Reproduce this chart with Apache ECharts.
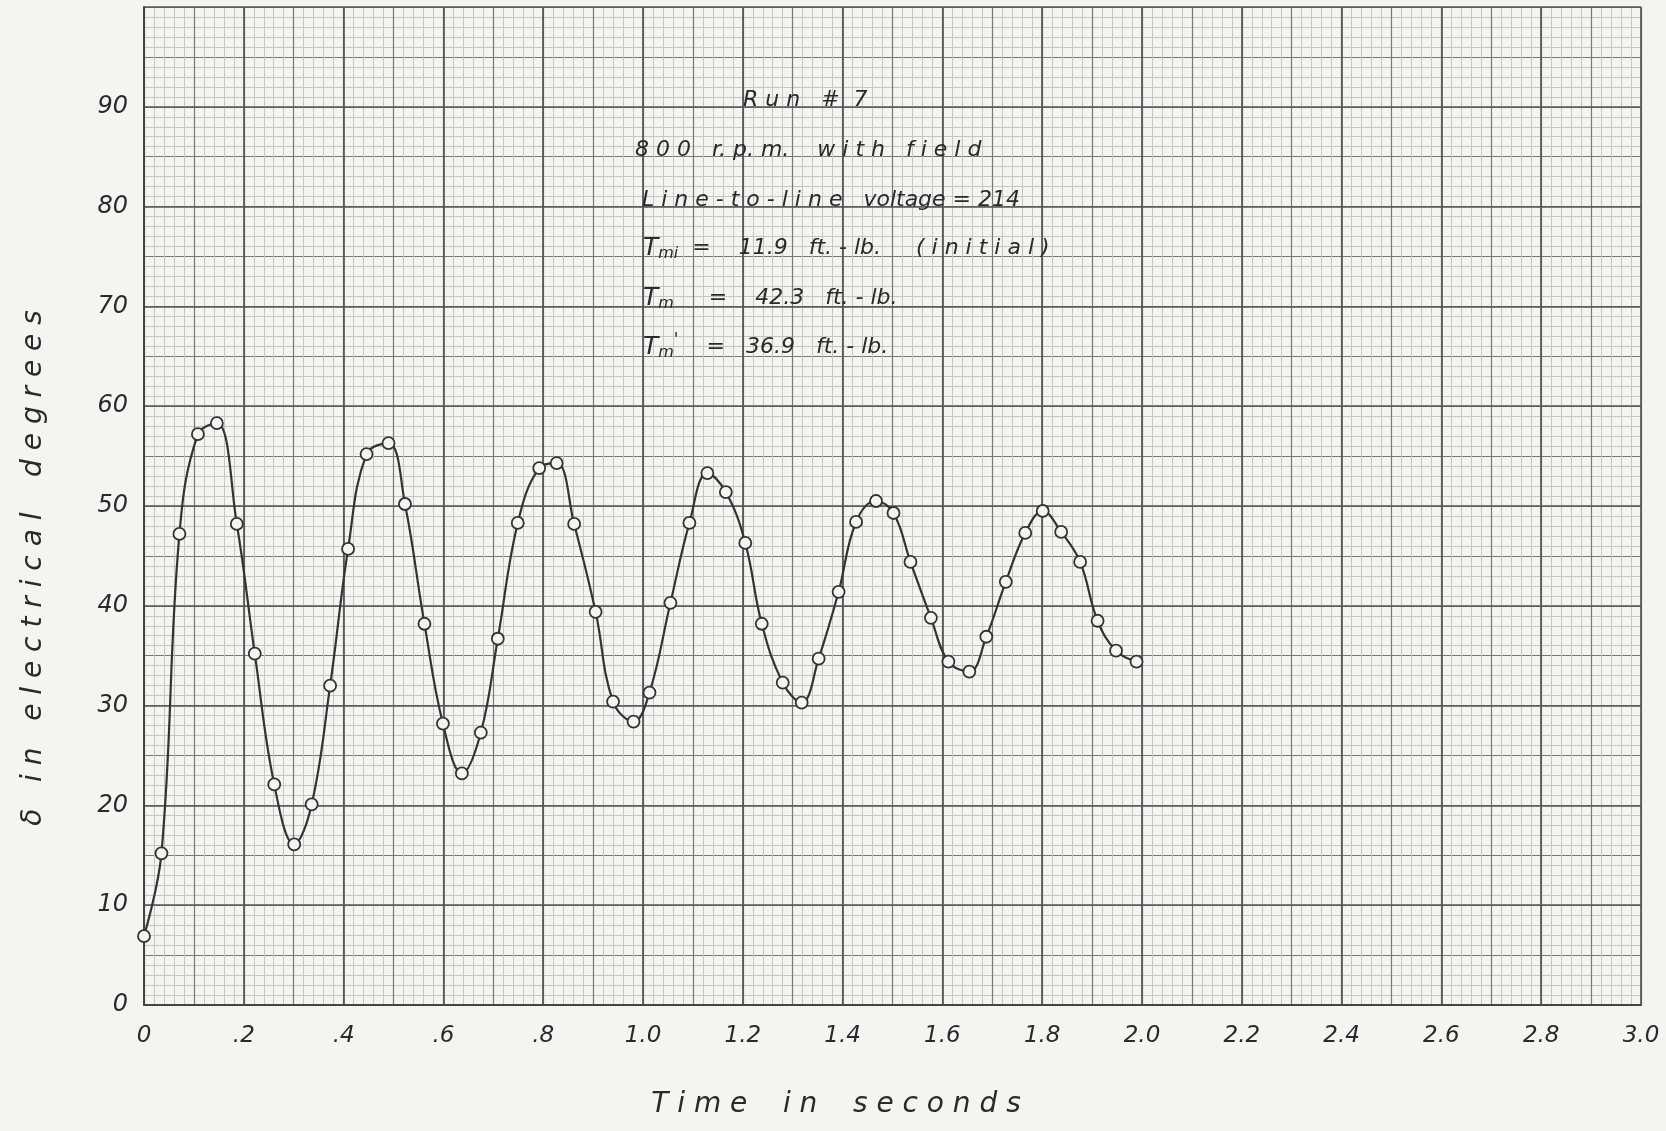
<!DOCTYPE html>
<html>
<head>
<meta charset="utf-8">
<script src="https://cdn.jsdelivr.net/npm/echarts@6/dist/echarts.min.js"></script>
<style>
html,body{margin:0;padding:0;background:#f4f4f1;}
#chart{width:1666px;height:1131px;}
</style>
</head>
<body>
<div id="chart"></div>
<script>
// ---- data ----
var times = [0, 0.035, 0.071, 0.108, 0.146, 0.186, 0.222, 0.261, 0.301, 0.336, 0.373, 0.409, 0.446, 0.490, 0.523, 0.562, 0.599, 0.637, 0.675, 0.709, 0.749, 0.792, 0.827, 0.862, 0.905, 0.940, 0.981, 1.013, 1.055, 1.093, 1.129, 1.166, 1.205, 1.238, 1.280, 1.318, 1.352, 1.392, 1.427, 1.467, 1.502, 1.536, 1.577, 1.612, 1.654, 1.688, 1.727, 1.766, 1.801, 1.838, 1.876, 1.911, 1.948, 1.989];
var delta = [6.9, 15.2, 47.2, 57.2, 58.3, 48.2, 35.2, 22.1, 16.1, 20.1, 32.0, 45.7, 55.2, 56.3, 50.2, 38.2, 28.2, 23.2, 27.3, 36.7, 48.3, 53.8, 54.3, 48.2, 39.4, 30.4, 28.4, 31.3, 40.3, 48.3, 53.3, 51.4, 46.3, 38.2, 32.3, 30.3, 34.7, 41.4, 48.4, 50.5, 49.3, 44.4, 38.8, 34.4, 33.4, 36.9, 42.4, 47.3, 49.5, 47.4, 44.4, 38.5, 35.5, 34.4];
var xTickLabels = ['0', '.2', '.4', '.6', '.8', '1.0', '1.2', '1.4', '1.6', '1.8', '2.0', '2.2', '2.4', '2.6', '2.8', '3.0'];
var yTickLabels = ['0', '10', '20', '30', '40', '50', '60', '70', '80', '90', ''];
var xTitle = 'T i m e    i n    s e c o n d s';
var yTitle = '\u03b4   i n   e l e c t r i c a l    d e g r e e s';
var notes = [
  'R u n   #  7',
  '8 0 0   r. p. m.    w i t h   f i e l d',
  'L i n e - t o - l i n e   voltage = 214',
  '{t|T}{s|mi}  =    11.9   ft. - lb.     ( i n i t i a l )',
  '{t|T}{s|m}     =    42.3   ft. - lb.',
  "{t|T}{s|m}{p|'}    =   36.9   ft. - lb."
];

var points = times.map(function (t, i) { return [t, delta[i]]; });

var ink = '#2a2a2a';
var chart = echarts.init(document.getElementById('chart'));

var graphics = [];
var noteX = [743, 635, 642, 643, 643, 643];
var noteY = [100, 150, 200, 248, 298, 347];
notes.forEach(function (n, i) {
  graphics.push({
    type: 'text', x: noteX[i], y: noteY[i], z: 100,
    style: {
      text: n, fill: ink, font: 'italic 22px "DejaVu Sans", sans-serif',
      verticalAlign: 'middle',
      rich: {
        t: {fontSize: 25, fontStyle: 'italic', fontFamily: 'DejaVu Sans', fill: ink},
        s: {fontSize: 16, fontStyle: 'italic', fontFamily: 'DejaVu Sans', fill: ink, padding: [12, 0, 0, 0]},
        p: {fontSize: 17, fontStyle: 'italic', fontFamily: 'DejaVu Sans', fill: ink, padding: [0, 0, 12, 0]}
      }
    }
  });
});
graphics.push({
  type: 'text', x: 836, y: 1105, z: 100,
  style: {text: xTitle, fill: ink, font: 'italic 28px "DejaVu Sans", sans-serif', align: 'center', verticalAlign: 'middle'}
});
graphics.push({
  type: 'text', x: 34, y: 568, rotation: Math.PI / 2, z: 100,
  style: {text: yTitle, fill: ink, font: 'italic 28px "DejaVu Sans", sans-serif', align: 'center', verticalAlign: 'middle'}
});

var gridRect = {left: 144, top: 7, width: 1497, height: 998};

chart.setOption({
  backgroundColor: '#f4f4f1',
  animation: false,
  grid: gridRect,
  xAxis: [
    {
      type: 'value', min: 0, max: 3, interval: 0.2, z: 3,
      axisLine: {show: true, onZero: false, lineStyle: {color: '#444', width: 2}},
      axisTick: {show: false},
      axisLabel: {
        margin: 20, color: ink, fontSize: 23, fontStyle: 'italic', fontFamily: 'DejaVu Sans',
        formatter: function (v) { return xTickLabels[Math.round(v / 0.2)]; }
      },
      splitLine: {show: true, lineStyle: {color: '#555', width: 1.7}}
    },
    {
      type: 'value', min: 0, max: 3, interval: 0.1, z: 1,
      axisLine: {show: false}, axisTick: {show: false}, axisLabel: {show: false},
      splitLine: {show: true, lineStyle: {color: '#777774', width: 1.2}},
      minorTick: {show: false, splitNumber: 5},
      minorSplitLine: {show: true, lineStyle: {color: '#c6c6c1', width: 1}}
    }
  ],
  yAxis: [
    {
      type: 'value', min: 0, max: 100, interval: 10, z: 3,
      axisLine: {show: true, onZero: false, lineStyle: {color: '#444', width: 2}},
      axisTick: {show: false},
      axisLabel: {
        margin: 16, color: ink, fontSize: 24, fontStyle: 'italic', fontFamily: 'DejaVu Sans',
        formatter: function (v) { return yTickLabels[Math.round(v / 10)]; }
      },
      splitLine: {show: true, lineStyle: {color: '#555', width: 1.7}}
    },
    {
      type: 'value', min: 0, max: 100, interval: 5, z: 1,
      axisLine: {show: false}, axisTick: {show: false}, axisLabel: {show: false},
      splitLine: {show: true, lineStyle: {color: '#777774', width: 1.2}},
      minorTick: {show: false, splitNumber: 5},
      minorSplitLine: {show: true, lineStyle: {color: '#c6c6c1', width: 1}}
    }
  ],
  graphic: graphics,
  series: [
    {
      type: 'line', xAxisIndex: 0, yAxisIndex: 0, z: 10,
      data: points,
      smooth: 0.4,
      smoothConstraint: false,
      symbol: 'circle', symbolSize: 12, showAllSymbol: true,
      lineStyle: {color: '#333', width: 2.2},
      itemStyle: {color: '#f4f4f1', borderColor: '#333', borderWidth: 1.8}
    }
  ]
});
</script>
</body>
</html>
